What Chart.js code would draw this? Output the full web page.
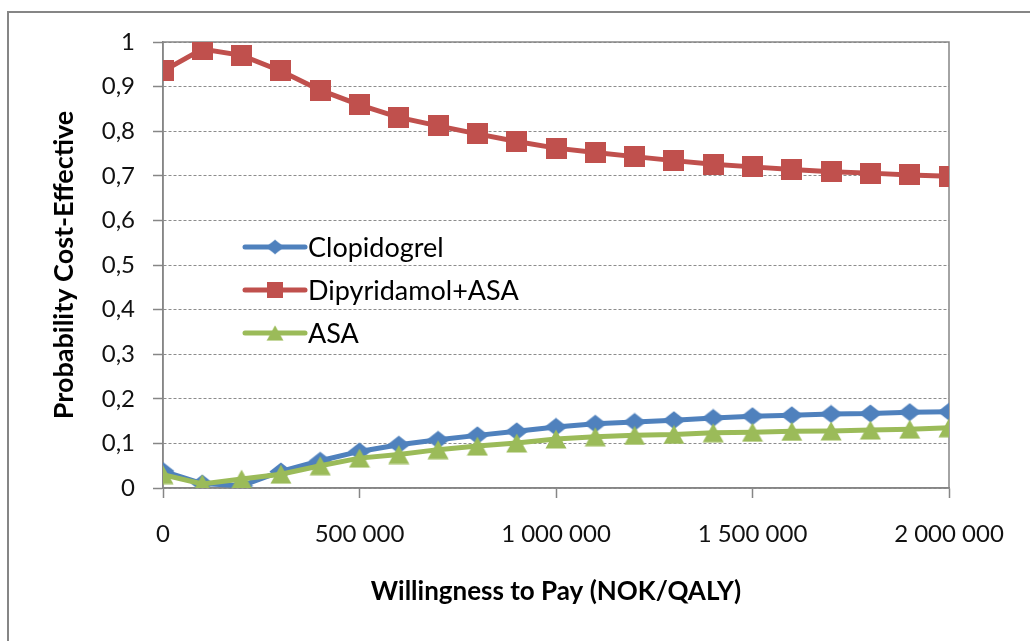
<!DOCTYPE html>
<html>
<head>
<meta charset="utf-8">
<script src="https://cdn.jsdelivr.net/npm/chart.js@4.4.1/dist/chart.umd.min.js"></script>
<style>
  html, body { margin: 0; padding: 0; background: #ffffff; }
  canvas { display: block; }
</style>
</head>
<body>
<canvas id="ceac" width="1030" height="641" style="width:1030px;height:641px"></canvas>
<script>
// Willingness to pay (NOK per QALY)
const wtp = [0, 100000, 200000, 300000, 400000, 500000, 600000, 700000, 800000, 900000,
             1000000, 1100000, 1200000, 1300000, 1400000, 1500000, 1600000, 1700000,
             1800000, 1900000, 2000000];

// Probability that each strategy is cost-effective
const clopidogrel = [0.038, 0.010, 0.005, 0.037, 0.061, 0.082, 0.097, 0.108, 0.118, 0.127,
                     0.137, 0.144, 0.148, 0.152, 0.157, 0.161, 0.163, 0.166, 0.167, 0.170, 0.171];
const dipyridamolAsa = [0.935, 0.984, 0.970, 0.935, 0.892, 0.859, 0.831, 0.812, 0.794, 0.777,
                        0.762, 0.752, 0.743, 0.734, 0.726, 0.720, 0.714, 0.709, 0.706, 0.702, 0.699];
const asa = [0.030, 0.009, 0.020, 0.031, 0.050, 0.067, 0.075, 0.086, 0.094, 0.101,
             0.110, 0.115, 0.118, 0.120, 0.124, 0.125, 0.127, 0.128, 0.130, 0.132, 0.135];

const seriesNames = ['Clopidogrel', 'Dipyridamol+ASA', 'ASA'];

// Axis tick labels (Norwegian number formatting)
const xTickLabels = ['0', '500 000', '1 000 000', '1 500 000', '2 000 000'];
const yTickLabels = ['0', '0,1', '0,2', '0,3', '0,4', '0,5', '0,6', '0,7', '0,8', '0,9', '1'];

const xTitle = 'Willingness to Pay (NOK/QALY)';
const yTitle = 'Probability Cost-Effective';

const BLUE = '#4F81BD', RED = '#C0504D', GREEN = '#9BBB59';
const AXIS_GREY = '#868686', GRID_GREY = '#8c8c8c';
const FONT = 'Lato, "Open Sans", "DejaVu Sans", sans-serif';

// Marker sprites, centred on their bounding box
function sprite(w, h, color, path) {
  const c = document.createElement('canvas');
  c.width = w; c.height = h;
  const g = c.getContext('2d');
  g.fillStyle = color;
  g.beginPath();
  path(g, w, h);
  g.closePath();
  g.fill();
  return c;
}
const diamond = sprite(24, 19, BLUE, (g) => {
  g.moveTo(0.5, 9.5); g.lineTo(12, 0.5); g.lineTo(23.5, 9.5); g.lineTo(12, 18.5);
});
const square = sprite(21, 21, RED, (g) => { g.rect(0, 0, 21, 21); });
const triangle = sprite(22, 20, GREEN, (g) => {
  g.moveTo(11, 0.5); g.lineTo(21.5, 19.5); g.lineTo(0.5, 19.5);
});
const markers = [diamond, square, triangle];
const colors = [BLUE, RED, GREEN];

function pairs(ys) { return ys.map((y, i) => ({ x: wtp[i], y })); }

// Page background and the outer frame of the figure
const framePlugin = {
  id: 'frame',
  beforeDraw(chart) {
    const { ctx, width, height } = chart;
    ctx.save();
    ctx.fillStyle = '#ffffff';
    ctx.fillRect(0, 0, width, height);
    ctx.strokeStyle = AXIS_GREY;
    ctx.lineWidth = 2;
    ctx.beginPath();
    ctx.moveTo(8, height);
    ctx.lineTo(8, 12);
    ctx.lineTo(width, 12);
    ctx.stroke();
    ctx.restore();
  },
  beforeDatasetsDraw(chart) {
    const { ctx, chartArea: a } = chart;
    ctx.save();
    ctx.strokeStyle = AXIS_GREY;
    ctx.lineWidth = 1.5;
    ctx.strokeRect(a.left, a.top, a.right - a.left, a.bottom - a.top);
    ctx.restore();
  }
};

// Legend drawn inside the plot area
const insideLegend = {
  id: 'insideLegend',
  afterDatasetsDraw(chart) {
    const { ctx } = chart;
    const x0 = 245, x1 = 305, top = 247, gap = 43;
    ctx.save();
    chart.data.datasets.forEach((ds, i) => {
      const y = top + i * gap;
      ctx.strokeStyle = colors[i];
      ctx.lineWidth = 5;
      ctx.lineCap = 'round';
      ctx.beginPath();
      ctx.moveTo(x0, y);
      ctx.lineTo(x1, y);
      ctx.stroke();
      const m = markers[i], s = 0.8;
      ctx.drawImage(m, (x0 + x1) / 2 - m.width * s / 2, y - m.height * s / 2, m.width * s, m.height * s);
      ctx.fillStyle = '#000000';
      ctx.font = '27px ' + FONT;
      ctx.textAlign = 'left';
      ctx.textBaseline = 'middle';
      ctx.fillText(ds.label, x1 + 3, y + 1);
    });
    ctx.restore();
  }
};

new Chart(document.getElementById('ceac'), {
  type: 'line',
  data: {
    datasets: [clopidogrel, dipyridamolAsa, asa].map((vals, i) => ({
      label: seriesNames[i],
      data: pairs(vals),
      borderColor: colors[i],
      backgroundColor: colors[i],
      borderWidth: 5,
      pointStyle: markers[i],
      pointRadius: 10,
      tension: 0,
      order: 2 - i
    }))
  },
  options: {
    responsive: false,
    animation: false,
    events: [],
    layout: { padding: { left: 0, top: 42, right: 81, bottom: 0 } },
    plugins: {
      legend: { display: false },
      tooltip: { enabled: false }
    },
    scales: {
      x: {
        type: 'linear',
        min: 0,
        max: 2000000,
        afterFit(scale) { scale.height = 153; },
        afterBuildTicks(scale) {
          scale.ticks = xTickLabels.map((_, i) => ({ value: i * 500000 }));
        },
        ticks: {
          callback: (v, i) => xTickLabels[i],
          font: { family: FONT, size: 24 },
          color: '#111111',
          padding: 22,
          maxRotation: 0,
          autoSkip: false
        },
        grid: {
          drawOnChartArea: false,
          drawTicks: true,
          tickLength: 10,
          tickColor: AXIS_GREY,
          tickWidth: 1.5
        },
        border: { display: true, color: AXIS_GREY, width: 1.5 },
        title: {
          display: true,
          text: xTitle,
          font: { family: FONT, size: 26, weight: 'bold' },
          color: '#000000',
          padding: { top: 0, bottom: 34 }
        }
      },
      y: {
        min: 0,
        max: 1,
        afterFit(scale) { scale.width = 163; },
        afterBuildTicks(scale) {
          scale.ticks = yTickLabels.map((_, i) => ({ value: i / 10 }));
        },
        ticks: {
          callback: (v, i) => yTickLabels[i],
          font: { family: FONT, size: 24 },
          color: '#111111',
          padding: 18,
          autoSkip: false
        },
        grid: {
          color: GRID_GREY,
          lineWidth: 1,
          drawTicks: true,
          tickLength: 10,
          tickColor: AXIS_GREY,
          tickWidth: 1.5,
          tickBorderDash: []
        },
        border: { display: true, color: AXIS_GREY, width: 1.5, dash: [3, 2] },
        title: {
          display: true,
          text: yTitle,
          font: { family: FONT, size: 27, weight: 'bold' },
          color: '#000000',
          padding: { top: 48, bottom: 0 }
        }
      }
    }
  },
  plugins: [framePlugin, insideLegend]
});
</script>
</body>
</html>
